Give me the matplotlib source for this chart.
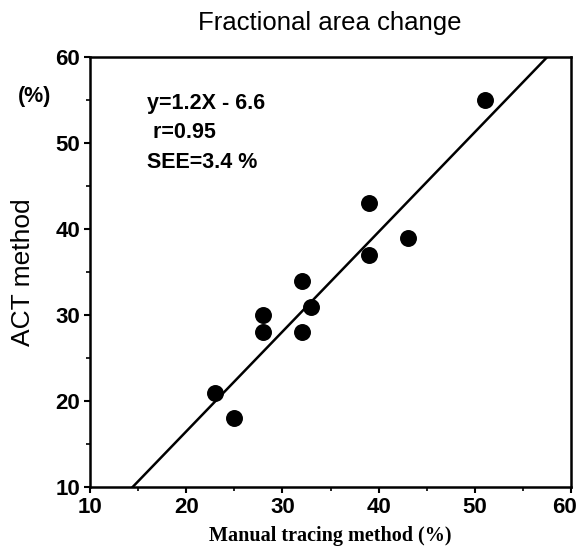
import matplotlib.pyplot as plt
import matplotlib.transforms as mtransforms
import numpy as np

# data
manual = [23, 25, 28, 28, 32, 32, 33, 39, 39, 43, 51]
act = [21, 18, 30, 28, 34, 28, 31, 43, 37, 39, 55]

# regression line as drawn
fit_slope = 1.16
fit_intercept = -6.7
stats_text = ["y=1.2X - 6.6", " r=0.95", "SEE=3.4 %"]

x_ticks = [10, 20, 30, 40, 50, 60]
y_ticks = [10, 20, 30, 40, 50, 60]

fig = plt.figure(figsize=(5.81, 5.5), dpi=100)
ax = fig.add_axes([0.155, 0.114, 0.828, 0.782])

ax.scatter(manual, act, s=125, color='black', zorder=3)

xs = np.array([10, 60])
ax.plot(xs, fit_slope * xs + fit_intercept, color='black', lw=1.8)

ax.set_xlim(10, 60)
ax.set_ylim(10, 60)
ax.set_xticks(x_ticks)
ax.set_yticks(y_ticks)
ax.set_xticks(np.arange(15, 60, 10), minor=True)
ax.set_yticks(np.arange(15, 60, 10), minor=True)

ax.tick_params(which='major', direction='out', length=4, width=1.5, pad=3)
ax.tick_params(which='minor', direction='out', length=3, width=1.2)
for sp in ax.spines.values():
    sp.set_linewidth(1.8)

for lab in ax.get_xticklabels() + ax.get_yticklabels():
    lab.set_fontfamily('Liberation Sans')
    lab.set_fontweight('bold')
    lab.set_fontsize(16)

# last x label sits a little left of its tick, as in the reference
last = ax.xaxis.get_major_ticks()[-1].label1
last.set_transform(last.get_transform() +
                   mtransforms.ScaledTranslation(-5 / 72, 0, fig.dpi_scale_trans))

fig.text(0.568, 0.958, "Fractional area change", fontfamily='Liberation Sans',
         fontsize=18.5, ha='center', va='center')
ax.set_xlabel("Manual tracing method (%)", fontfamily='Liberation Serif',
              fontweight='bold', fontsize=14.5, labelpad=6)
ax.set_ylabel("ACT method", fontfamily='Liberation Sans', fontsize=19,
              labelpad=15)

fig.text(0.031, 0.824, "(%)", fontfamily='Liberation Sans', fontweight='bold',
         fontsize=15.5, va='center')

for i, t in enumerate(stats_text):
    ax.text(0.118, 0.893 - i * 0.0685, t, transform=ax.transAxes,
            fontfamily='Liberation Sans', fontweight='bold', fontsize=15.5,
            va='center')

fig.savefig('out.png', dpi=100)
